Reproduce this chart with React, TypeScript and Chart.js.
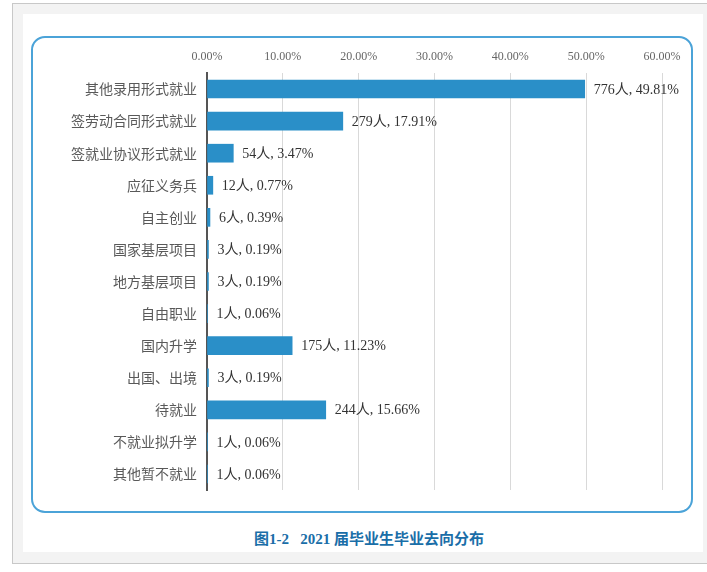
import React, { useEffect, useRef } from "react";
import { Chart, registerables } from "chart.js";

Chart.register(...registerables);

const categories = [
  "其他录用形式就业",
  "签劳动合同形式就业",
  "签就业协议形式就业",
  "应征义务兵",
  "自主创业",
  "国家基层项目",
  "地方基层项目",
  "自由职业",
  "国内升学",
  "出国、出境",
  "待就业",
  "不就业拟升学",
  "其他暂不就业",
];
const counts = [776, 279, 54, 12, 6, 3, 3, 1, 175, 3, 244, 1, 1];
const percents = [49.81, 17.91, 3.47, 0.77, 0.39, 0.19, 0.19, 0.06, 11.23, 0.19, 15.66, 0.06, 0.06];
const titleText = "图1-2\u00a0\u00a0\u00a02021 届毕业生毕业去向分布";

const labelPlugin = {
  id: "barLabels",
  afterDatasetsDraw(chart: any) {
    const ctx = chart.ctx;
    const meta = chart.getDatasetMeta(0);
    ctx.save();
    ctx.font = '14px "Liberation Serif", "Noto Sans CJK SC", serif';
    ctx.fillStyle = "#333333";
    ctx.textAlign = "left";
    ctx.textBaseline = "middle";
    meta.data.forEach((bar: any, i: number) => {
      const txt = `${counts[i]}人, ${percents[i].toFixed(2)}%`;
      ctx.fillText(txt, bar.x + 9, bar.y + 1);
    });
    ctx.restore();
  },
};

export default function App() {
  const ref = useRef<HTMLCanvasElement>(null);
  useEffect(() => {
    if (!ref.current) return;
    const chart = new Chart(ref.current, {
      type: "bar",
      data: {
        labels: categories,
        datasets: [
          {
            data: percents,
            backgroundColor: "#2a8fc8",
            borderWidth: 0,
            barThickness: 18,
          },
        ],
      },
      options: {
        indexAxis: "y",
        animation: false,
        responsive: false,
        maintainAspectRatio: false,
        layout: { padding: { left: 0, right: 29, top: 0, bottom: 21 } },
        plugins: {
          legend: { display: false },
          tooltip: { enabled: false },
          title: { display: false },
        },
        scales: {
          x: {
            position: "top",
            min: 0,
            max: 60,
            ticks: {
              stepSize: 10,
              color: "#666666",
              font: { family: '"Liberation Serif", serif', size: 12 },
              padding: 9,
              callback: (v: any) => Number(v).toFixed(2) + "%",
            },
            grid: { color: "#d9d9d9", lineWidth: 1, drawTicks: false },
            border: { display: false },
            afterFit: (s: any) => {
              s.height = 36;
            },
          },
          y: {
            ticks: {
              color: "#595959",
              font: { family: '"Noto Sans CJK SC", sans-serif', size: 14 },
              padding: 10,
            },
            grid: { display: false, drawTicks: false },
            border: { display: true, color: "#555555", width: 2 },
            afterFit: (s: any) => {
              s.width = 175;
            },
          },
        },
      },
      plugins: [labelPlugin],
    });
    return () => chart.destroy();
  }, []);

  return (
    <div style={{ position: "fixed", left: 0, top: 0, width: 707, height: 572, background: "#ffffff" }}>
      <div
        style={{
          position: "absolute",
          left: 12,
          top: 3,
          width: 720,
          height: 559,
          border: "1px solid #c8c8c8",
          background: "#f3f3f3",
        }}
      />
      <div
        style={{
          position: "absolute",
          left: 23,
          top: 14,
          width: 680,
          height: 538,
          background: "#ffffff",
        }}
      />
      <div
        style={{
          position: "absolute",
          left: 31,
          top: 36,
          width: 658,
          height: 473,
          border: "2px solid #4ba3d8",
          borderRadius: 14,
        }}
      />
      <canvas
        ref={ref}
        width={659}
        height={474}
        style={{ position: "absolute", left: 32, top: 37, width: 659, height: 474 }}
      />
      <div
        style={{
          position: "absolute",
          left: 23,
          width: 680,
          top: 527,
          textAlign: "center",
          fontFamily: '"Liberation Serif", "Noto Sans CJK SC", serif',
          fontWeight: "bold",
          fontSize: 15,
          color: "#1a6ea8",
          whiteSpace: "pre",
          paddingLeft: 6,
        }}
      >
        {titleText}
      </div>
    </div>
  );
}
